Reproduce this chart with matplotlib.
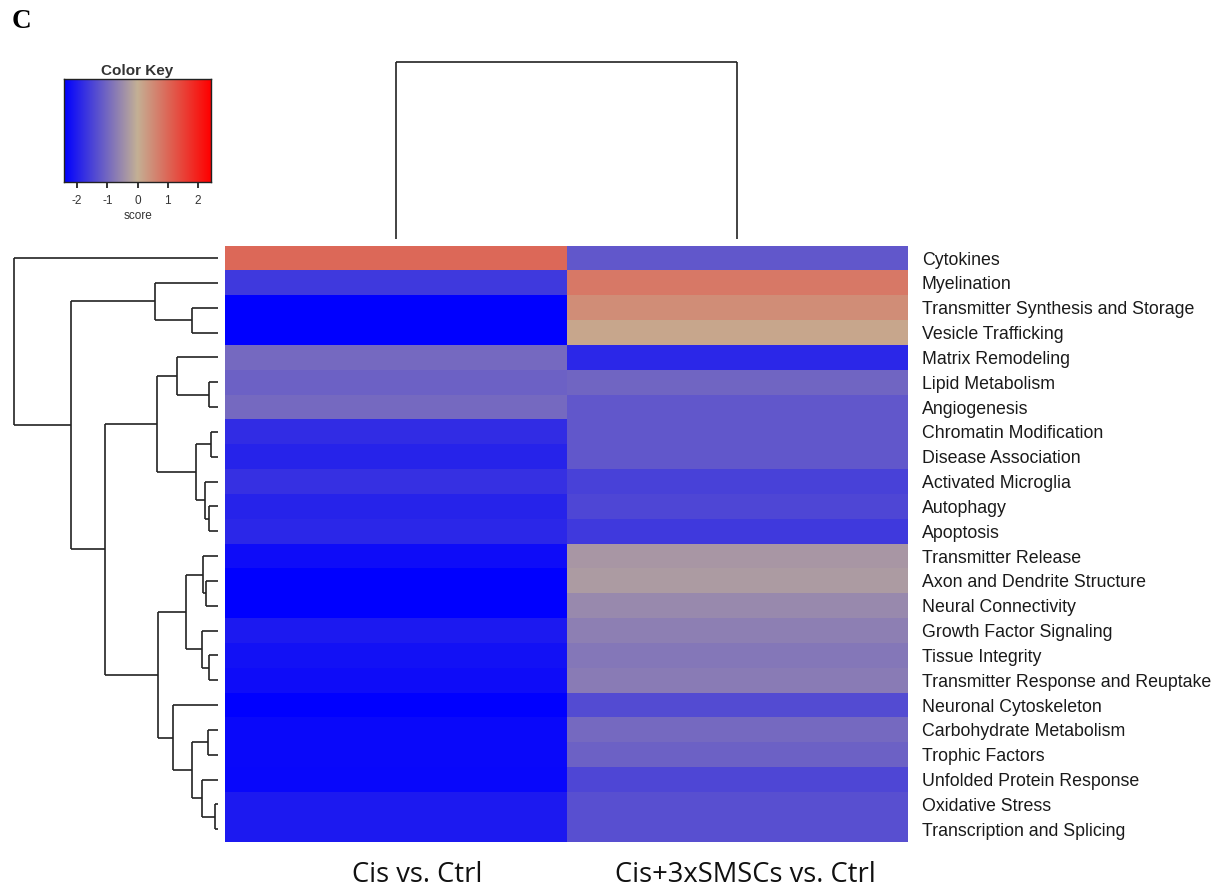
import numpy as np
import matplotlib
matplotlib.use("Agg")
import matplotlib.pyplot as plt
from matplotlib.colors import LinearSegmentedColormap

# ---------------- data ----------------
row_labels = [
    "Cytokines", "Myelination", "Transmitter Synthesis and Storage",
    "Vesicle Trafficking", "Matrix Remodeling", "Lipid Metabolism",
    "Angiogenesis", "Chromatin Modification", "Disease Association",
    "Activated Microglia", "Autophagy", "Apoptosis", "Transmitter Release",
    "Axon and Dendrite Structure", "Neural Connectivity",
    "Growth Factor Signaling", "Tissue Integrity",
    "Transmitter Response and Reuptake", "Neuronal Cytoskeleton",
    "Carbohydrate Metabolism", "Trophic Factors", "Unfolded Protein Response",
    "Oxidative Stress", "Transcription and Splicing",
]
col_labels = ["Cis vs. Ctrl", "Cis+3xSMSCs vs. Ctrl"]

score_cis = [1.00, -1.64, -2.50, -2.50, -0.97, -1.09, -0.97, -1.82, -1.94,
             -1.76, -1.94, -1.88, -2.25, -2.50, -2.50, -2.07, -2.19, -2.25,
             -2.50, -2.31, -2.31, -2.33, -2.07, -2.07]
score_smsc = [-1.22, 0.76, 0.49, 0.14, -1.88, -1.03, -1.22, -1.22, -1.22,
              -1.52, -1.46, -1.64, -0.36, -0.30, -0.55, -0.67, -0.79, -0.73,
              -1.40, -0.97, -1.09, -1.46, -1.34, -1.34]

# row dendrogram merges: (name, left child, right child, height)
# integer children = leaf index in displayed order
row_merges = [
    ("C", 2, 3, 26), ("B", 1, "C", 63),
    ("G", 5, 6, 9), ("F", 4, "G", 41),
    ("I", 7, 8, 7), ("K", 10, 11, 9), ("J", 9, "K", 13), ("H", "I", "J", 22),
    ("E", "F", "H", 61),
    ("O", 13, 14, 12), ("N", 12, "O", 15),
    ("Q", 16, 17, 9), ("P", 15, "Q", 16), ("M", "N", "P", 32),
    ("T", 19, 20, 10), ("V", 22, 23, 3), ("U", 21, "V", 16),
    ("S", "T", "U", 26), ("R", 18, "S", 45), ("L", "M", "R", 60),
    ("D", "E", "L", 113), ("A", "B", "D", 147), ("root", 0, "A", 204),
]
col_merge_height = 1.0

key_ticks = [-2, -1, 0, 1, 2]
vlim = 2.43

# ---------------- figure ----------------
W, H = 1220, 889
fig = plt.figure(figsize=(W / 100, H / 100), dpi=100)
fig.patch.set_facecolor("white")


def ax_px(x0, y0, x1, y1):
    return fig.add_axes([x0 / W, 1 - y1 / H, (x1 - x0) / W, (y1 - y0) / H])


cmap = LinearSegmentedColormap.from_list(
    "bt", ["#0000FF", "#C4B095", "#FF0000"], N=256)

line_kw = dict(color="#222222", lw=1.2, clip_on=False, solid_capstyle="butt")

# heatmap
hm_top, hm_bot = 245.6, 841.6
ax = ax_px(225, hm_top, 908, hm_bot)
data = np.column_stack([score_cis, score_smsc])
ax.pcolormesh(np.arange(3), np.arange(len(row_labels) + 1), data,
              cmap=cmap, vmin=-vlim, vmax=vlim, shading="flat")
ax.set_xlim(0, 2)
ax.set_ylim(len(row_labels), 0)
for s in ax.spines.values():
    s.set_visible(False)
ax.yaxis.tick_right()
ax.set_yticks(np.arange(len(row_labels)) + 0.5)
ax.set_yticklabels(row_labels, fontsize=12.8, family="Liberation Sans",
                   color="#1a1a1a")
ax.tick_params(axis="y", length=0, pad=10)
ax.set_xticks([])

# column labels (placed as in the reference panel)
col_label_x = [417, 745]
for lab, xp in zip(col_labels, col_label_x):
    fig.text(xp / W, 1 - 882 / H, lab, fontsize=19.7, family="Open Sans",
             color="#111111", ha="center", va="baseline")

# row dendrogram
axd = ax_px(14, hm_top, 218, hm_bot)
pos = {i: i + 0.5 for i in range(len(row_labels))}
hgt = {i: 0.0 for i in range(len(row_labels))}
for name, a, b, h in row_merges:
    ya, yb = pos[a], pos[b]
    axd.plot([hgt[a], h], [ya, ya], **line_kw)
    axd.plot([hgt[b], h], [yb, yb], **line_kw)
    axd.plot([h, h], [ya, yb], **line_kw)
    pos[name] = (ya + yb) / 2
    hgt[name] = h
axd.set_xlim(row_merges[-1][3], 0)
axd.set_ylim(len(row_labels), 0)
axd.axis("off")

# column dendrogram
axc = ax_px(225, 62, 908, 239)
axc.plot([0.5, 0.5], [0, col_merge_height], **line_kw)
axc.plot([1.5, 1.5], [0, col_merge_height], **line_kw)
axc.plot([0.5, 1.5], [col_merge_height, col_merge_height], **line_kw)
axc.set_xlim(0, 2)
axc.set_ylim(0, col_merge_height)
axc.axis("off")

# color key
axk = ax_px(64, 79, 211, 182)
grad = np.linspace(-vlim, vlim, 256)[None, :]
axk.imshow(grad, cmap=cmap, vmin=-vlim, vmax=vlim, aspect="auto",
           extent=(-vlim, vlim, 0, 1))
axk.set_xlim(-vlim, vlim)
axk.set_ylim(0, 1)
axk.set_yticks([])
axk.set_xticks(key_ticks)
axk.set_xticklabels([str(t) for t in key_ticks], fontsize=8.5,
                    family="Liberation Sans", color="#333333")
axk.tick_params(axis="x", length=4.5, width=1.3, color="#222222", pad=5)
for s in axk.spines.values():
    s.set_linewidth(1.0)
    s.set_color("#222222")
axk.set_title("Color Key", fontsize=11, fontweight="bold",
              family="Liberation Sans", color="#333333", pad=3)
axk.set_xlabel("score", fontsize=8.5, family="Liberation Sans",
               color="#333333", labelpad=2)

# panel letter
fig.text(12 / W, 1 - 22 / H, "C", fontsize=19.5, fontweight="bold",
         family="Liberation Serif", va="center", ha="left")

fig.savefig("out.png", dpi=100, facecolor="white")
